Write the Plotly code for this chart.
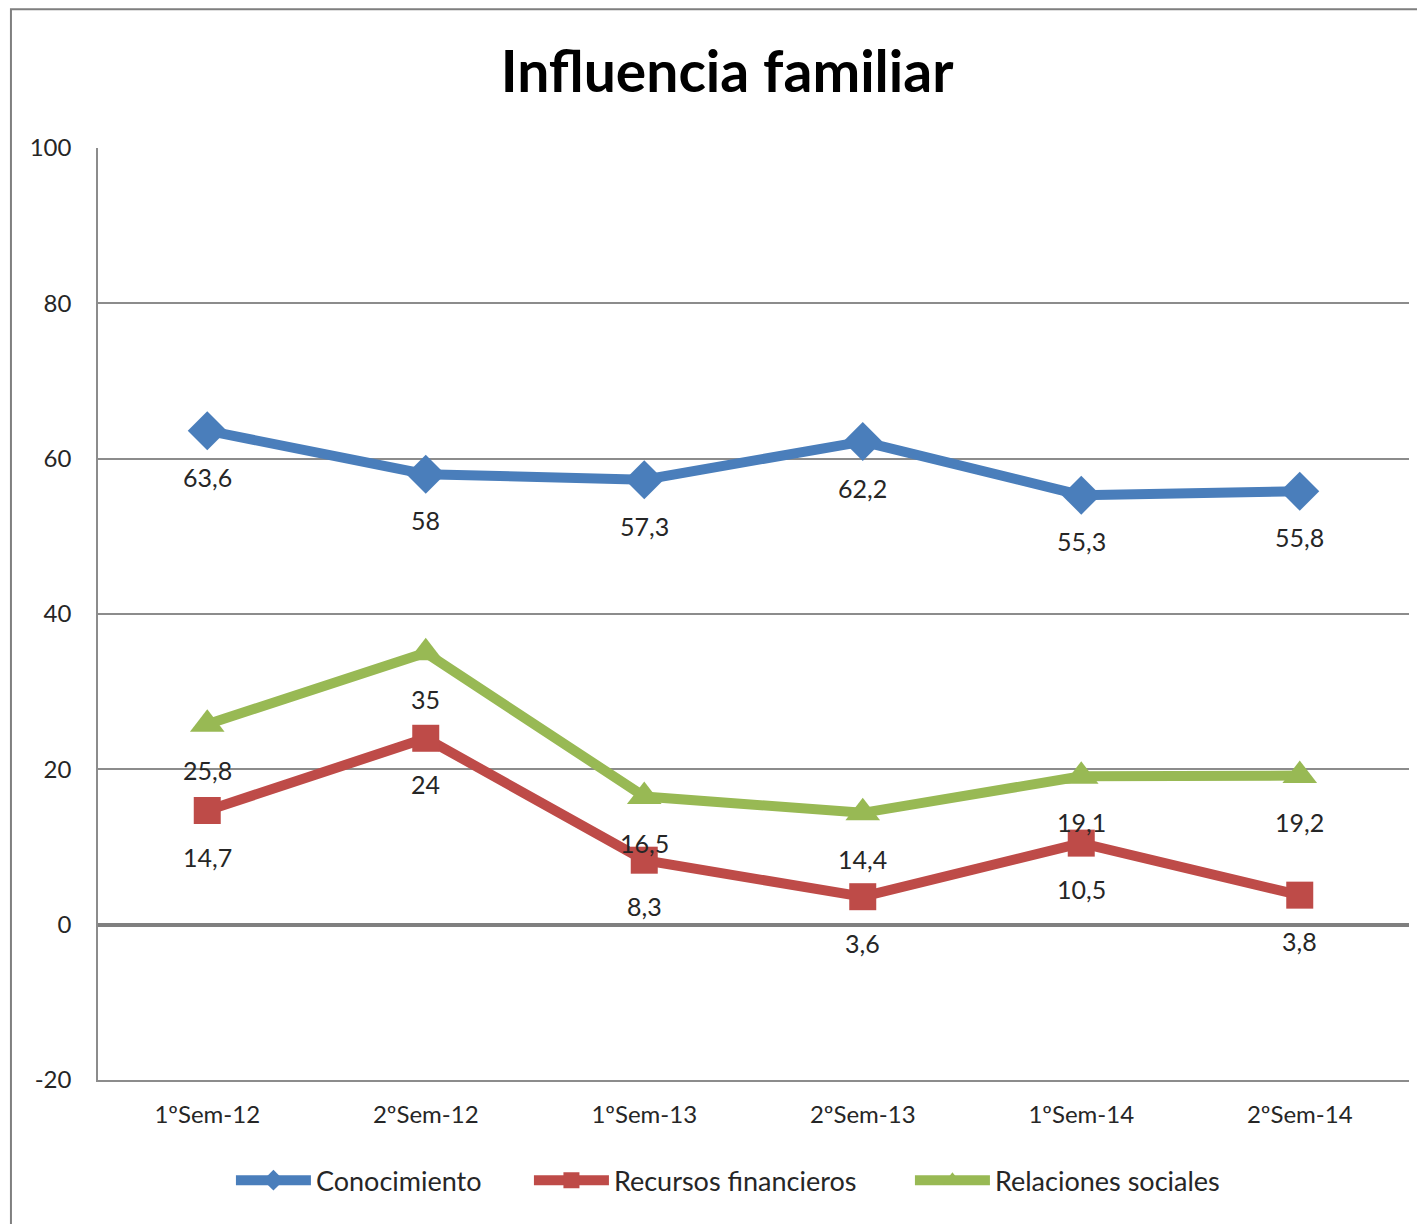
import plotly.graph_objects as go

# Data
categories = ['1ºSem-12', '2ºSem-12', '1ºSem-13', '2ºSem-13', '1ºSem-14', '2ºSem-14']
conocimiento = [63.6, 58, 57.3, 62.2, 55.3, 55.8]
recursos = [14.7, 24, 8.3, 3.6, 10.5, 3.8]
relaciones = [25.8, 35, 16.5, 14.4, 19.1, 19.2]
y_ticks = [-20, 0, 20, 40, 60, 80, 100]
y_ticklabels = ['-20', '0', '20', '40', '60', '80', '100']

series = [
    ('Conocimiento', conocimiento, '#4A7EBB', 'diamond', 30, 208),
    ('Recursos financieros', recursos, '#BE4B48', 'square', 27, 291),
    ('Relaciones sociales', relaciones, '#98B954', 'triangle-up', 30, 240),
]

FONT = 'Lato'
TEXT_COLOR = '#262626'
GRID = '#8C8C8C'

fig = go.Figure()

for name, values, color, symbol, size, lw in series:
    fig.add_trace(go.Scatter(
        x=categories, y=values, name=name, mode='lines+markers',
        line=dict(color=color, width=10),
        marker=dict(symbol=symbol, size=size, color=color),
        legendwidth=lw,
    ))

# Data labels (comma decimal), placed below each marker
annotations = []
for name, values, color, symbol, size, lw in series:
    for cat, v in zip(categories, values):
        label = ('%g' % v).replace('.', ',')
        annotations.append(dict(
            x=cat, y=v, text=label, showarrow=False,
            yshift=-46, xanchor='center', yanchor='middle',
            font=dict(family=FONT, size=25, color=TEXT_COLOR),
        ))

fig.update_layout(
    width=1425, height=1224,
    margin=dict(l=90, r=24, t=140, b=152),
    plot_bgcolor='white', paper_bgcolor='white',
    font=dict(family=FONT, size=24, color=TEXT_COLOR),
    title=dict(
        text='<b>Influencia familiar</b>',
        x=0.5046, xanchor='center', y=0.948, yanchor='middle',
        font=dict(family=FONT, size=57, color='black'),
    ),
    showlegend=True,
    legend=dict(
        orientation='h', x=0.1014, xanchor='left', y=-0.108, yanchor='middle',
        font=dict(family=FONT, size=27, color=TEXT_COLOR),
        itemwidth=75, tracegroupgap=0,
    ),
    xaxis=dict(
        type='category', range=[-0.5, 5.5],
        showgrid=False, showline=True, linecolor=GRID, linewidth=1.5,
        ticks='', ticklabelstandoff=12,
        tickfont=dict(family=FONT, size=24, color=TEXT_COLOR),
        zeroline=False,
    ),
    yaxis=dict(
        range=[-20, 100], tickvals=y_ticks, ticktext=y_ticklabels,
        showgrid=True, gridcolor=GRID, gridwidth=1.5,
        showline=True, linecolor=GRID, linewidth=1.5,
        zeroline=True, zerolinecolor='#7F7F7F', zerolinewidth=4,
        ticks='', ticklabelstandoff=20,
        tickfont=dict(family=FONT, size=24, color=TEXT_COLOR),
    ),
    annotations=annotations,
    shapes=[dict(
        type='rect', xref='paper', yref='paper',
        x0=-0.0664, x1=1.1, y0=-0.3, y1=1.149,
        line=dict(color='#7F7F7F', width=2), layer='below',
    )],
)

fig.write_html('out.html')
